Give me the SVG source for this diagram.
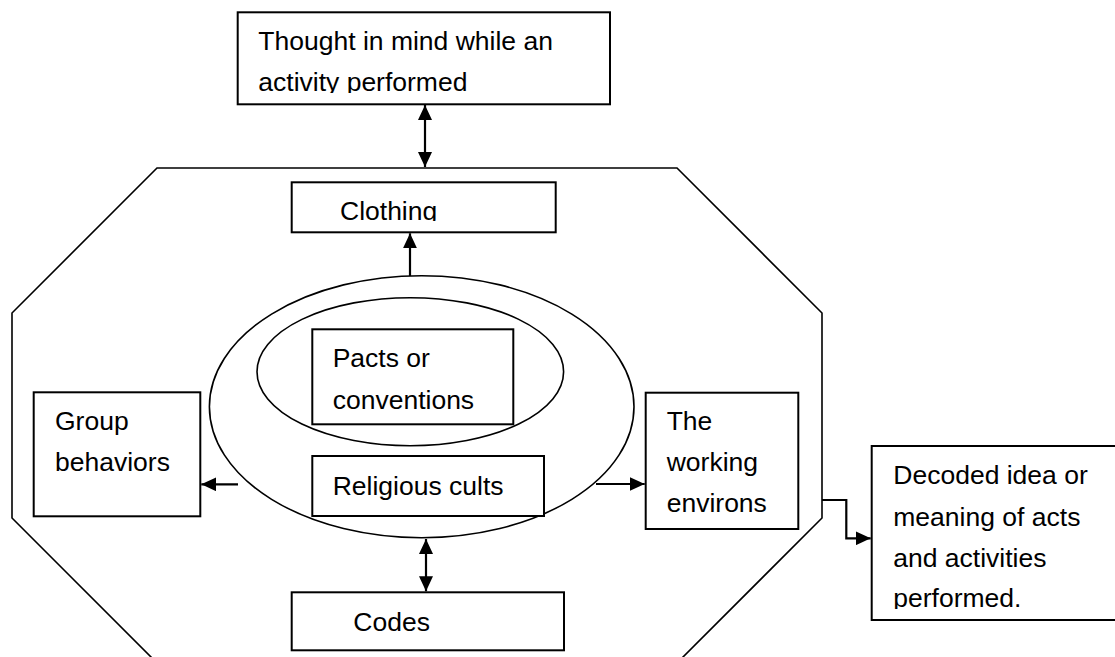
<svg xmlns="http://www.w3.org/2000/svg" width="1115" height="657" viewBox="0 0 1115 657">
<style>
.box{fill:#fff;stroke:#000;stroke-width:2}
.shape{fill:none;stroke:#000;stroke-width:1.6}
.ell{fill:none;stroke:#000;stroke-width:1.6}
.t{font-family:"Liberation Sans",Arial,sans-serif;font-size:26.5px;fill:#000}
.con{fill:none;stroke:#000;stroke-width:2.2}
</style>
<defs>
<marker id="arr" viewBox="0 0 15 14" refX="15" refY="7" markerWidth="15" markerHeight="14" markerUnits="userSpaceOnUse" orient="auto-start-reverse">
<path d="M0,0 L15,7 L0,14 z" fill="#000"/>
</marker>
<clipPath id="clipTop"><rect x="230" y="10" width="390" height="83"/></clipPath>
<clipPath id="clipCloth"><rect x="285" y="180" width="280" height="41"/></clipPath>
<clipPath id="clipDec"><rect x="865" y="440" width="260" height="169"/></clipPath>
</defs>
<rect width="1115" height="657" fill="#fff"/>
<g id="frame">
<polygon class="shape" points="157,168 677,168 822,313 822,518 677,663 157,663 12,518 12,313"/>
</g>
<g id="outer-ellipse">
<ellipse class="ell" cx="421.7" cy="406.7" rx="212.3" ry="131"/>
</g>
<g id="inner-ellipse">
<ellipse class="ell" cx="410.3" cy="371.7" rx="153.3" ry="74"/>
</g>
<g id="thought">
<rect class="box" x="237.7" y="12.3" width="372.3" height="92"/>
<g clip-path="url(#clipTop)">
<text class="t" x="258.3" y="50">Thought in mind while an</text>
<text class="t" x="258.3" y="90.7">activity performed</text>
</g>
</g>
<g id="clothing">
<rect class="box" x="291.7" y="182.3" width="264" height="50"/>
<g clip-path="url(#clipCloth)">
<text class="t" x="340" y="220">Clothing</text>
</g>
</g>
<g id="pacts">
<rect class="box" x="312.3" y="329.3" width="201" height="95"/>
<text class="t" x="332.7" y="366.7">Pacts or</text>
<text class="t" x="332.7" y="409.3">conventions</text>
</g>
<g id="religious">
<rect class="box" x="312.3" y="456" width="231.7" height="60"/>
<text class="t" x="332.7" y="495">Religious cults</text>
</g>
<g id="group">
<rect class="box" x="33.7" y="392.3" width="166.6" height="124"/>
<text class="t" x="55" y="430">Group</text>
<text class="t" x="55" y="470.7">behaviors</text>
</g>
<g id="working">
<rect class="box" x="645.7" y="392.7" width="152.6" height="136.3"/>
<text class="t" x="666.7" y="430">The</text>
<text class="t" x="666.7" y="470.7">working</text>
<text class="t" x="666.7" y="512.3">environs</text>
</g>
<g id="codes">
<rect class="box" x="291.7" y="592.3" width="272.3" height="58"/>
<text class="t" x="353.3" y="631">Codes</text>
</g>
<g id="decoded">
<rect class="box" x="871.7" y="446" width="260" height="174"/>
<g clip-path="url(#clipDec)">
<text class="t" x="893.3" y="484.3">Decoded idea or</text>
<text class="t" x="893.3" y="525.7">meaning of acts</text>
<text class="t" x="893.3" y="566.7">and activities</text>
<text class="t" x="893.3" y="606.7">performed.</text>
</g>
</g>
<g id="connectors">
<line class="con" x1="425" y1="105" x2="425" y2="167" marker-start="url(#arr)" marker-end="url(#arr)"/>
<line class="con" x1="410" y1="276" x2="410" y2="233.3" marker-end="url(#arr)"/>
<line class="con" x1="238" y1="484.3" x2="201.3" y2="484.3" marker-end="url(#arr)"/>
<line class="con" x1="596" y1="484" x2="644.7" y2="484" marker-end="url(#arr)"/>
<line class="con" x1="426" y1="539" x2="426" y2="591.3" marker-start="url(#arr)" marker-end="url(#arr)"/>
<path class="con" d="M822,500 H846.3 V538.3 H870.7" marker-end="url(#arr)"/>
</g>
</svg>
